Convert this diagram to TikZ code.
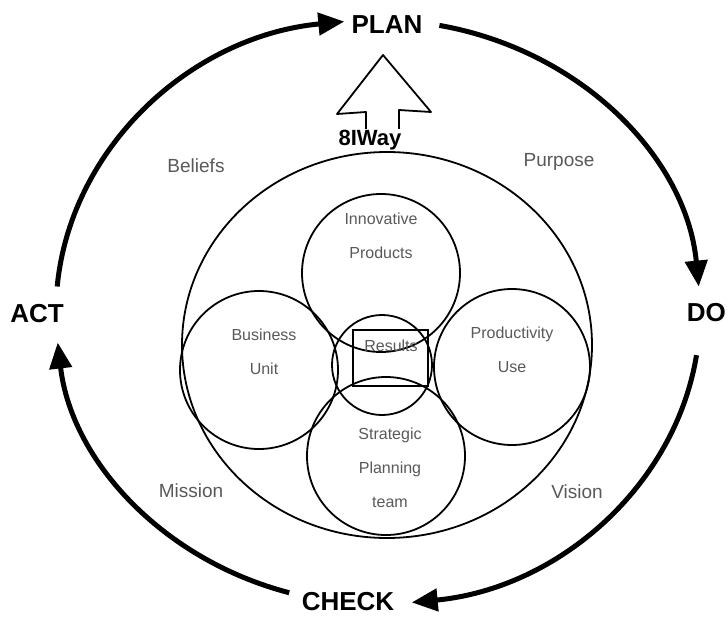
\documentclass[tikz,border=0pt]{standalone}
\usepackage{fontspec}
\setmainfont{Liberation Sans}
\usetikzlibrary{arrows.meta}
\begin{document}
\begin{tikzpicture}[x=1pt,y=-1pt,
  cyc/.style={line width=5pt,-{Triangle[length=26pt,width=22pt]}},
  ring/.style={draw,line width=1.8pt},
  ringc/.style={circle,draw,line width=1.8pt,inner sep=0pt},
  big/.style={font=\bfseries\fontsize{26}{26}\selectfont, inner sep=0pt},
  lbl/.style={font=\fontsize{19}{22}\selectfont, text=black!65, inner sep=0pt},
  inl/.style={font=\fontsize{16}{34}\selectfont, text=black!65, align=center, inner sep=0pt},
]
\useasboundingbox (0,0) rectangle (728,623);

% PDCA labels
\node[big] (plan) at (387,25) {PLAN};
\node[big,anchor=east] (do) at (726,313) {DO};
\node[big] (check) at (348,602) {CHECK};
\node[big] (act) at (37,314) {ACT};

% cycle arcs (ellipse centre (378,312), radii 322 x 292)
\coordinate (p1) at (439.4,25.4);
\coordinate (p2) at (696.5,355.2);
\coordinate (p3) at (289.2,592.7);
\coordinate (p4) at (57.2,286.5);
\draw[cyc] (p1) arc[start angle=281, end angle=355, x radius=322, y radius=292];
\draw[cyc] (p2) arc[start angle=8.5, end angle=84, x radius=322, y radius=292];
\draw[cyc] (p3) arc[start angle=106, end angle=174, x radius=322, y radius=292];
\draw[cyc] (p4) arc[start angle=185, end angle=264, x radius=322, y radius=292];

% side labels
\node[lbl] (beliefs) at (196,166) {Beliefs};
\node[lbl] (purpose) at (559,162) {Purpose};
\node[lbl] (mission) at (191,491) {Mission};
\node[lbl] (vision) at (577,492) {Vision};

% hollow arrow and title
\draw[line width=1.8pt, line join=round] (366,133) -- (366,112) -- (337,114) -- (383,55) -- (431,112) -- (399,110) -- (399,133);
\node[font=\bfseries\fontsize{22}{22}\selectfont, inner sep=1pt, fill=white] (way) at (370,140) {8IWay};

% big circle
\draw[ring] (387,345) ellipse[x radius=205, y radius=193];

% inner circles
\node[ringc, minimum size=158] (ctop) at (381,273) {};
\node[ringc, minimum size=158] (cleft) at (259,370) {};
\node[ringc, minimum size=156] (cright) at (512,367) {};
\node[ringc, minimum size=158] (cbot) at (386,456) {};
\node[ringc, minimum size=100] (ccen) at (382,365) {};
\node[draw, line width=1.8pt, minimum width=75, minimum height=56, inner sep=0pt] (rbox) at (390.5,358) {};

% inner texts
\node[inl] (ttop) at (381,236) {Innovative\\Products};
\node[inl] (tleft) at (264,352) {Business\\Unit};
\node[inl] (tright) at (512,350) {Productivity\\Use};
\node[inl] (tbot) at (390,468) {Strategic\\Planning\\team};
\node[font=\fontsize{16}{18}\selectfont, text=black!65, inner sep=0pt] (tres) at (391,346) {Results};
\end{tikzpicture}
\end{document}
